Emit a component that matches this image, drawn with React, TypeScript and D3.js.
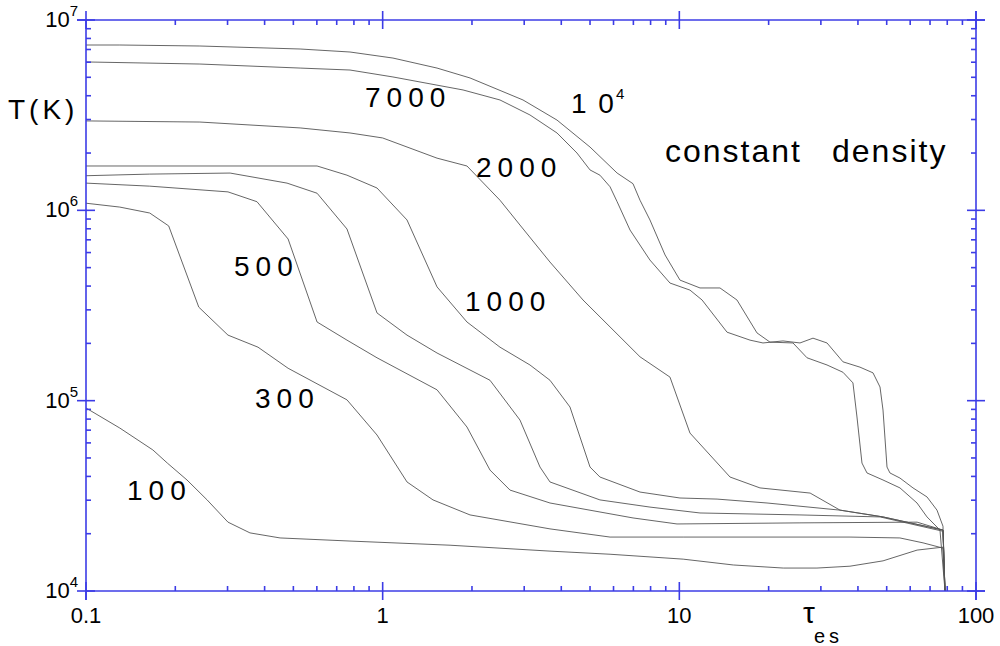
import React from 'react';
import * as d3 from 'd3';

// [tau_es, T(K)]
const curve10000: [number, number][] = [
  [0.1, 7.39e6], [0.13, 7.39e6], [0.242, 7.3e6], [0.527, 7.04e6], [0.776, 6.79e6], [1.083, 6.31e6],
  [1.525, 5.59e6], [1.97, 4.96e6], [2.972, 3.8e6], [3.869, 2.98e6], [5.0, 2.15e6], [6.17, 1.57e6],
  [6.98, 1.38e6], [7.37, 1.13e6], [7.96, 8.9e5], [8.95, 5.83e5], [10.05, 4.3e5], [11.74, 3.91e5],
  [13.71, 3.91e5], [15.64, 3.38e5], [18.27, 2.27e5], [20.21, 2.03e5], [24.16, 2.01e5], [26.94, 1.68e5],
  [31.46, 1.54e5], [35.61, 1.41e5], [38.48, 1.24e5], [39.7, 8.21e4], [41.27, 4.7e4], [42.91, 4.17e4],
  [48.59, 3.83e4], [55.43, 3.48e4], [63.26, 2.9e4], [68.37, 2.45e4], [75.61, 2.09e4], [78.62, 1e4],
];
const curve7000: [number, number][] = [
  [0.1, 6.02e6], [0.242, 5.87e6], [0.527, 5.59e6], [0.776, 5.46e6], [1.083, 5.02e6], [1.866, 4.29e6],
  [2.486, 3.8e6], [3.137, 3.17e6], [3.869, 2.55e6], [4.519, 2.0e6], [5.0, 1.63e6], [5.4, 1.53e6],
  [5.84, 1.33e6], [6.17, 1.11e6], [6.82, 7.88e5], [7.96, 5.48e5], [9.3, 4.15e5], [10.86, 3.81e5],
  [11.93, 3.38e5], [14.48, 2.29e5], [17.31, 2.08e5], [19.14, 2.01e5], [22.36, 2.06e5], [25.51, 2.01e5],
  [28.22, 2.13e5], [31.46, 2.01e5], [35.61, 1.6e5], [40.63, 1.5e5], [44.96, 1.4e5], [47.47, 1.18e5],
  [48.59, 8.93e4], [50.12, 4.48e4], [51.28, 4.17e4], [55.43, 3.92e4], [61.32, 3.48e4], [68.37, 3.12e4],
  [73.88, 2.66e4], [77.39, 2.19e4], [78.62, 1e4],
];
const curve2000: [number, number][] = [
  [0.1, 2.95e6], [0.242, 2.91e6], [0.527, 2.71e6], [0.776, 2.55e6], [1.0, 2.4e6], [1.525, 1.88e6],
  [1.924, 1.71e6], [2.486, 1.13e6], [2.903, 8.37e5], [3.664, 5.35e5], [4.735, 3.38e5], [7.37, 1.7e5],
  [9.3, 1.33e5], [10.86, 6.76e4], [14.82, 3.97e4], [18.7, 3.48e4], [27.6, 3.27e4], [34.8, 2.66e4],
  [48.6, 2.45e4], [77.4, 2.09e4], [78.6, 1e4],
];
const curve1000: [number, number][] = [
  [0.1, 1.71e6], [0.38, 1.71e6], [0.601, 1.71e6], [0.758, 1.53e6], [0.957, 1.31e6], [1.208, 8.9e5],
  [1.525, 3.96e5], [1.924, 2.59e5], [2.486, 1.91e5], [3.137, 1.54e5], [3.664, 1.28e5], [4.28, 9.26e4],
  [5.0, 4.48e4], [5.4, 3.97e4], [7.37, 3.31e4], [10.05, 3.08e4], [13.4, 3.04e4], [19.75, 2.9e4],
  [34.8, 2.66e4], [48.6, 2.45e4], [77.4, 2.09e4], [78.6, 1e4],
];
const curve700: [number, number][] = [
  [0.1, 1.52e6], [0.164, 1.55e6], [0.306, 1.57e6], [0.476, 1.39e6], [0.601, 1.23e6], [0.758, 7.98e5],
  [0.957, 2.89e5], [1.208, 2.21e5], [1.525, 1.78e5], [2.3, 1.28e5], [2.903, 7.91e4], [3.391, 4.48e4],
  [3.664, 3.74e4], [5.4, 3.01e4], [7.96, 2.76e4], [11.74, 2.57e4], [25.5, 2.51e4], [47.5, 2.45e4],
  [77.4, 2.06e4], [78.6, 1e4],
];
const curve500: [number, number][] = [
  [0.1, 1.39e6], [0.164, 1.34e6], [0.301, 1.25e6], [0.377, 1.11e6], [0.48, 7.07e5], [0.601, 2.59e5],
  [0.758, 2.08e5], [0.957, 1.68e5], [1.525, 1.14e5], [1.924, 7.27e4], [2.3, 4.32e4], [2.687, 3.39e4],
  [3.664, 2.9e4], [6.98, 2.42e4], [9.82, 2.25e4], [25.5, 2.28e4], [63.3, 2.3e4], [77.4, 2.09e4],
  [78.6, 1e4],
];
const curve300: [number, number][] = [
  [0.1, 1.09e6], [0.13, 1.04e6], [0.164, 9.68e5], [0.19, 8.28e5], [0.24, 3.1e5], [0.301, 2.21e5],
  [0.38, 1.91e5], [0.48, 1.48e5], [0.758, 1.01e5], [0.957, 6.6e4], [1.208, 3.74e4], [1.478, 3.01e4],
  [1.97, 2.51e4], [3.664, 2.12e4], [5.84, 1.92e4], [10.3, 1.92e4], [37.6, 1.92e4], [55.4, 1.9e4],
  [66.3, 1.79e4], [77.4, 1.68e4], [78.6, 1e4],
];
const curve100: [number, number][] = [
  [0.1, 9.15e4], [0.13, 7.18e4], [0.168, 5.51e4], [0.188, 4.7e4], [0.219, 3.83e4], [0.256, 3.01e4],
  [0.301, 2.3e4], [0.357, 2.02e4], [0.451, 1.9e4], [0.776, 1.83e4], [1.687, 1.74e4], [3.664, 1.62e4],
  [5.84, 1.56e4], [10.3, 1.47e4], [15.2, 1.37e4], [22.4, 1.32e4], [29.1, 1.32e4], [37.6, 1.35e4],
  [48.6, 1.44e4], [63.3, 1.64e4], [77.4, 1.7e4], [78.6, 1e4],
];

const curves = [curve10000, curve7000, curve2000, curve1000, curve700, curve500, curve300, curve100];

const xMajorTicks = [0.1, 1, 10, 100];
const xTickLabels = ['0.1', '1', '10', '100'];
const yMajorTicks = [1e4, 1e5, 1e6, 1e7];
const yTickExponents = ['4', '5', '6', '7'];
const curveLabelTexts = ['1 0', '7000', '2000', '1000', '500', '300', '100'];
const curveLabelSups = ['4', '', '', '', '', '', ''];
const titleWords = ['constant', 'density'];
const yAxisTitle = 'T(K)';
const xAxisTitle = 'τ';
const xAxisSub = 'es';

// layout (pixel positions of annotation baselines)
const labelPos: [number, number][] = [
  [571, 113], [365, 107], [476, 177], [465, 311], [234, 276], [255, 408], [127, 500],
];
const labelSpacing = [2, 6, 6, 6, 6, 6, 6];
const titlePos: [number, number][] = [[665, 162], [832, 162]];

const W = 1000;
const H = 646;
const L = 86, R = 976, T = 20, B = 591;
const AXIS = '#3c3ce6';
const FONT = 'Liberation Sans, Arial, Helvetica, sans-serif';

export default function App() {
  const x = d3.scaleLog().domain([0.1, 100]).range([L, R]);
  const y = d3.scaleLog().domain([1e4, 1e7]).range([B, T]);
  const line = d3.line<[number, number]>().x((d) => x(d[0])).y((d) => y(d[1]));

  const xMinor: number[] = [];
  [0.1, 1, 10].forEach((d) => { for (let k = 2; k <= 9; k++) xMinor.push(d * k); });
  const yMinor: number[] = [];
  [1e4, 1e5, 1e6].forEach((d) => { for (let k = 2; k <= 9; k++) yMinor.push(d * k); });

  const mj = 9, mn = 5;

  return (
    <svg width={W} height={H} style={{ position: 'absolute', left: 0, top: 0, background: '#fff' }}
      fontFamily={FONT}>
      <rect x={0} y={0} width={W} height={H} fill="#fff" />
      <g fill="none" stroke="#555" strokeWidth={0.9}>
        {curves.map((c, i) => <path key={i} d={line(c) || ''} />)}
      </g>
      <g stroke={AXIS} strokeWidth={1.6}>
        <line x1={L} y1={B} x2={R + 9} y2={B} />
        <line x1={L - 9} y1={T} x2={R + 9} y2={T} />
        <line x1={L} y1={T} x2={L} y2={B + 9} />
        <line x1={R} y1={T - 9} x2={R} y2={B + 9} />
        {xMajorTicks.map((v, i) => (
          <g key={'xm' + i}>
            <line x1={x(v)} x2={x(v)} y1={B - mj} y2={B + mj} />
            <line x1={x(v)} x2={x(v)} y1={T - mj} y2={T + mj} />
          </g>
        ))}
        {xMinor.map((v, i) => (
          <g key={'xn' + i}>
            <line x1={x(v)} x2={x(v)} y1={B - mn} y2={B} />
            <line x1={x(v)} x2={x(v)} y1={T} y2={T + mn} />
          </g>
        ))}
        {yMajorTicks.map((v, i) => (
          <g key={'ym' + i}>
            <line x1={L - mj} x2={L + mj} y1={y(v)} y2={y(v)} />
            <line x1={R - mj} x2={R + mj} y1={y(v)} y2={y(v)} />
          </g>
        ))}
        {yMinor.map((v, i) => (
          <g key={'yn' + i}>
            <line x1={L} x2={L + mn} y1={y(v)} y2={y(v)} />
            <line x1={R - mn} x2={R} y1={y(v)} y2={y(v)} />
          </g>
        ))}
      </g>
      <g fill="#000" fontSize={22}>
        {xMajorTicks.map((v, i) => (
          <text key={'xl' + i} x={x(v)} y={623} textAnchor="middle">{xTickLabels[i]}</text>
        ))}
        {yMajorTicks.map((v, i) => (
          <text key={'yl' + i} x={78} y={y(v) + 7} textAnchor="end">
            10<tspan fontSize={15} dy={-11}>{yTickExponents[i]}</tspan>
          </text>
        ))}
      </g>
      <g fill="#000" fontSize={28}>
        {curveLabelTexts.map((t, i) => (
          <text key={'cl' + i} x={labelPos[i][0]} y={labelPos[i][1]} letterSpacing={labelSpacing[i]}>
            {t}
            {curveLabelSups[i] ? <tspan fontSize={15} dy={-14}>{curveLabelSups[i]}</tspan> : null}
          </text>
        ))}
      </g>
      <g fill="#000" fontSize={32} letterSpacing={2}>
        {titleWords.map((w, i) => (
          <text key={'tw' + i} x={titlePos[i][0]} y={titlePos[i][1]}>{w}</text>
        ))}
      </g>
      <text x={8} y={119} fontSize={28} letterSpacing={4} fill="#000">{yAxisTitle}</text>
      <text x={803} y={623} fontSize={30} fill="#000">{xAxisTitle}</text>
      <text x={814} y={643} fontSize={20} letterSpacing={4} fill="#000">{xAxisSub}</text>
    </svg>
  );
}
